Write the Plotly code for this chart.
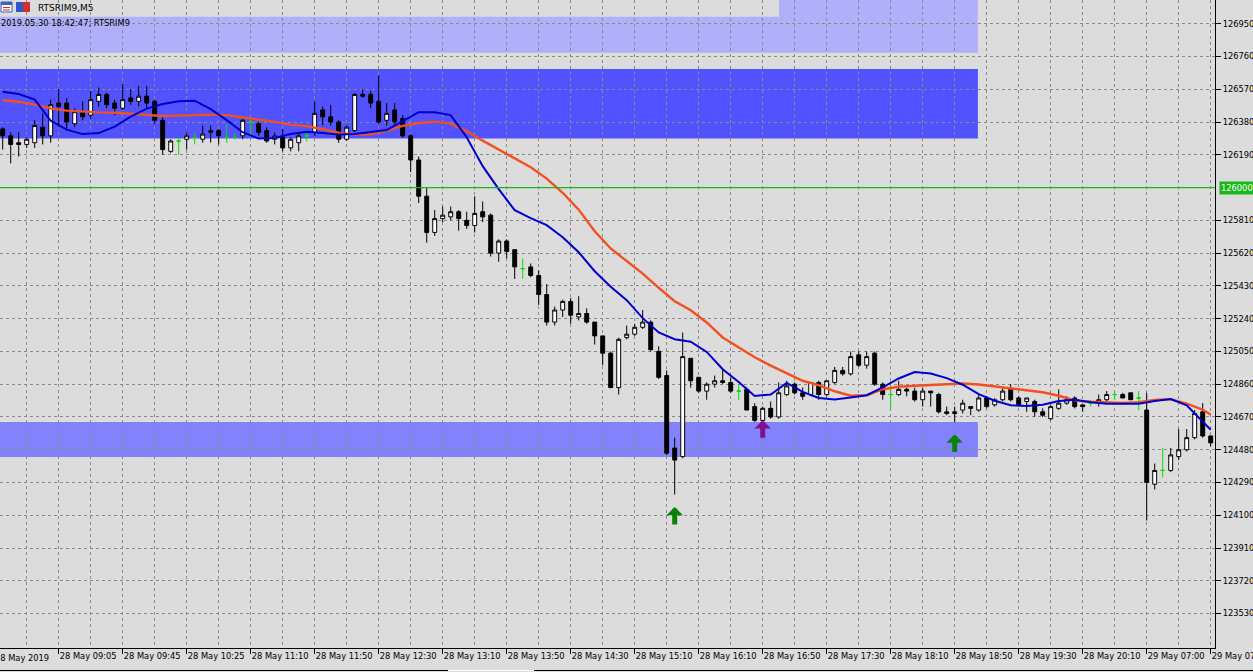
import plotly.graph_objects as go

# ---------------- data ----------------
BARS = list(range(152))
OPEN = [126340,126300,126260,126250,126260,126350,126300,126490,126490,126370,
        126440,126420,126500,126540,126490,126460,126520,126500,126530,126500,
        126390,126210,126270,126280,126290,126280,126320,126330,126290,126290,
        126300,126380,126370,126330,126280,126290,126230,126260,126300,126320,
        126450,126410,126380,126280,126330,126540,126540,126500,126390,126450,
        126400,126300,126160,125950,125740,125820,125830,125860,125810,125780,
        125860,125840,125620,125690,125640,125530,125540,125490,125380,125220,
        125290,125340,125250,125270,125220,125140,125040,124840,125130,125150,
        125190,125220,125050,124910,124490,124440,125010,124900,124820,124860,
        124880,124870,124820,124830,124730,124650,124720,124670,124800,124860,
        124810,124800,124870,124800,124870,124940,124920,125030,124970,125040,
        124860,124800,124800,124830,124820,124770,124820,124800,124690,124690,
        124710,124730,124710,124780,124740,124770,124830,124780,124760,124760,
        124700,124660,124720,124750,124780,124740,124750,124750,124770,124800,
        124800,124810,124780,124710,124280,124360,124360,124440,124480,124550,
        124700,124560]
HIGH = [126350,126320,126320,126290,126390,126430,126510,126570,126520,126460,
        126500,126560,126580,126550,126510,126600,126570,126590,126590,126510,
        126410,126280,126290,126320,126320,126360,126360,126340,126370,126320,
        126400,126390,126380,126350,126320,126340,126290,126310,126320,126500,
        126470,126480,126390,126360,126550,126570,126560,126650,126490,126490,
        126420,126310,126180,126000,125870,125890,125890,125870,125860,125950,
        125920,125850,125700,125700,125640,125590,125560,125520,125440,125310,
        125350,125360,125370,125300,125220,125140,125050,125130,125200,125210,
        125290,125230,125080,124940,124550,125160,125010,124900,124870,124910,
        124950,124900,124860,124840,124750,124730,124760,124870,124880,124870,
        124840,124870,124880,124880,124960,124960,125050,125050,125050,125050,
        124870,124840,124880,124840,124840,124840,124820,124810,124730,124730,
        124770,124730,124800,124790,124780,124840,124860,124790,124780,124770,
        124720,124740,124830,124790,124790,124740,124770,124800,124820,124820,
        124810,124810,124820,124810,124400,124490,124490,124600,124600,124710,
        124750,124560]
LOW = [126220,126140,126180,126230,126230,126250,126260,126350,126330,126350,
       126390,126400,126470,126460,126420,126450,126480,126470,126460,126370,
       126190,126200,126190,126220,126250,126260,126260,126250,126260,126280,
       126280,126300,126300,126260,126250,126210,126210,126210,126270,126300,
       126360,126360,126260,126270,126320,126520,126460,126370,126360,126360,
       126290,126090,125910,125680,125720,125800,125810,125750,125760,125740,
       125800,125600,125570,125590,125470,125470,125480,125320,125200,125200,
       125250,125210,125230,125210,125090,124970,124840,124800,125120,125140,
       125180,125050,124890,124450,124220,124430,124840,124810,124770,124840,
       124860,124810,124770,124710,124640,124640,124660,124660,124790,124800,
       124770,124790,124770,124790,124860,124910,124910,124960,124950,124850,
       124770,124720,124790,124790,124760,124730,124730,124690,124680,124640,
       124690,124680,124700,124720,124730,124760,124760,124730,124700,124670,
       124670,124650,124710,124740,124720,124700,124730,124730,124760,124770,
       124780,124770,124710,124070,124250,124320,124350,124420,124470,124540,
       124550,124500]
CLOSE = [126300,126250,126250,126280,126360,126300,126480,126470,126380,126440,
         126410,126510,126540,126480,126460,126510,126500,126530,126490,126390,
         126220,126270,126270,126300,126290,126310,126330,126300,126290,126290,
         126390,126380,126320,126270,126300,126230,126280,126300,126300,126430,
         126410,126380,126280,126350,126540,126530,126490,126380,126430,126380,
         126300,126160,125950,125740,125820,125840,125860,125820,125780,125850,
         125830,125620,125690,125630,125540,125530,125490,125380,125220,125290,
         125340,125260,125270,125220,125140,125040,124840,125120,125150,125190,
         125220,125060,124900,124460,124420,125020,124880,124820,124860,124880,
         124870,124820,124820,124710,124650,124720,124670,124810,124850,124810,
         124790,124870,124800,124880,124940,124920,125020,124970,125020,124860,
         124800,124800,124830,124820,124770,124820,124810,124700,124700,124700,
         124750,124720,124780,124730,124770,124820,124770,124740,124780,124700,
         124680,124730,124750,124770,124730,124730,124750,124770,124800,124800,
         124780,124770,124780,124290,124360,124360,124450,124480,124550,124690,
         124560,124520]

MA_BARS = list(range(0, 151, 2)) + [151]
MA_FAST = [126555,126542,126510,126388,126336,126310,126316,126353,126411,126458,
           126484,126501,126504,126455,126391,126321,126284,126287,126310,126323,
           126317,126307,126310,126321,126334,126385,126437,126437,126420,126292,
           126124,125991,125869,125823,125782,125712,125625,125515,125425,125347,
           125243,125160,125121,125106,125047,124947,124873,124792,124800,124867,
           124815,124780,124771,124783,124796,124841,124893,124931,124922,124895,
           124857,124802,124764,124738,124734,124741,124763,124770,124755,124746,
           124745,124747,124762,124774,124738,124645,124596]
MA_SLOW = [126506,126498,126481,126459,126446,126439,126436,126434,126428,126419,
           126415,126417,126420,126423,126420,126408,126396,126381,126365,126356,
           126338,126318,126307,126309,126330,126358,126374,126382,126371,126327,
           126272,126220,126173,126118,126052,125970,125872,125747,125647,125573,
           125501,125419,125341,125289,125218,125131,125073,125016,124968,124922,
           124880,124854,124819,124793,124796,124831,124845,124851,124854,124860,
           124864,124858,124847,124837,124825,124813,124793,124766,124758,124753,
           124751,124755,124768,124773,124747,124712,124684]

TICK_BARS = [7, 15, 23, 31, 39, 47, 55, 63, 71, 79, 87, 95, 103, 111, 119, 127, 135, 143, 151]
TICK_TEXT = ["28 May 09:05", "28 May 09:45", "28 May 10:25", "28 May 11:10", "28 May 11:50",
             "28 May 12:30", "28 May 13:10", "28 May 13:50", "28 May 14:30", "28 May 15:10",
             "28 May 16:10", "28 May 16:50", "28 May 17:30", "28 May 18:10", "28 May 18:50",
             "28 May 19:30", "28 May 20:10", "29 May 07:00", "29 May 07:40"]
FIRST_LABEL_BAR = -1
FIRST_LABEL = "28 May 2019"
GRID_BARS = [3, 11, 19, 27, 35, 43, 51, 59, 67, 75, 83, 91, 99, 107, 115, 123, 131, 139, 147]
PRICE_TICKS = [123530, 123720, 123910, 124100, 124290, 124480, 124670, 124860, 125050,
               125240, 125430, 125620, 125810, 126190, 126380, 126570, 126760, 126950]

LEVEL = 126000
ZONE_END_BAR = 121.9
ZONE_TOP = [127300, 126687, 124641]
ZONE_BOTTOM = [126782, 126285, 124438]
ZONE_COLOR = ["#B0B0FA", "#5252FF", "#8282FC"]
HEADER_BOX = (97.04, 126990)   # bar, price of the grey label box corner

SIGNAL_BAR = [84, 119, 95]
SIGNAL_PRICE = [124148, 124568, 124651]
SIGNAL_COLOR = ["#0A820A", "#0A820A", "#82108C"]

BG = "#DCDCDC"
GRID = "#8A8A8A"
LEVEL_COLOR = "#16B916"
FONT = "DejaVu Sans"

X_RANGE = [-0.3375, 151.5375]

# ---------------- figure ----------------
doji = [i for i in BARS if OPEN[i] == CLOSE[i]]
norm = [i for i in BARS if OPEN[i] != CLOSE[i]]

def pick(arr, idx):
    return [arr[i] for i in idx]

fig = go.Figure()
fig.add_trace(go.Candlestick(
    x=norm, open=pick(OPEN, norm), high=pick(HIGH, norm), low=pick(LOW, norm), close=pick(CLOSE, norm),
    increasing=dict(line=dict(color="black", width=1), fillcolor="white"),
    decreasing=dict(line=dict(color="black", width=1), fillcolor="black"),
    whiskerwidth=0, hoverinfo="skip", showlegend=False))
fig.add_trace(go.Candlestick(
    x=doji, open=pick(OPEN, doji), high=pick(HIGH, doji), low=pick(LOW, doji), close=pick(CLOSE, doji),
    increasing=dict(line=dict(color="#00E000", width=1), fillcolor="#00E000"),
    decreasing=dict(line=dict(color="#00E000", width=1), fillcolor="#00E000"),
    whiskerwidth=0, hoverinfo="skip", showlegend=False))
fig.add_trace(go.Scatter(x=MA_BARS, y=MA_SLOW, mode="lines",
                         line=dict(color="#F2501E", width=2.4), hoverinfo="skip", showlegend=False))
fig.add_trace(go.Scatter(x=MA_BARS, y=MA_FAST, mode="lines",
                         line=dict(color="#0000CD", width=2), hoverinfo="skip", showlegend=False))

shapes = []
for top, bot, col in zip(ZONE_TOP, ZONE_BOTTOM, ZONE_COLOR):
    shapes.append(dict(type="rect", xref="x", yref="y", x0=-5, x1=ZONE_END_BAR, y0=bot, y1=top,
                       fillcolor=col, line=dict(width=0), layer="below"))
shapes.append(dict(type="rect", xref="x", yref="y", x0=-5, x1=HEADER_BOX[0], y0=HEADER_BOX[1], y1=127300,
                   fillcolor=BG, line=dict(width=0), layer="below"))
shapes.append(dict(type="line", xref="paper", yref="y", x0=0, x1=1, y0=LEVEL, y1=LEVEL,
                   line=dict(color=LEVEL_COLOR, width=1.2), layer="above"))

W, H = 1215.0, 648.0
def px(x): return x / W
def py(y): return 1 - y / H

# window bottom border
shapes.append(dict(type="line", xref="paper", yref="paper", x0=0, x1=px(1253), y0=py(670.5), y1=py(670.5),
                   line=dict(color="black", width=1)))
shapes.append(dict(type="line", xref="paper", yref="paper", x0=px(448), x1=px(534), y0=py(670.5), y1=py(670.5),
                   line=dict(color="white", width=1)))
# header icons
shapes += [
    dict(type="rect", xref="paper", yref="paper", x0=px(1), x1=px(12), y0=py(12), y1=py(2),
         fillcolor="white", line=dict(color="#3A5FB8", width=1)),
    dict(type="rect", xref="paper", yref="paper", x0=px(1), x1=px(12), y0=py(5), y1=py(2),
         fillcolor="#3A5FB8", line=dict(width=0)),
    dict(type="line", xref="paper", yref="paper", x0=px(3), x1=px(10), y0=py(7.5), y1=py(7.5),
         line=dict(color="#C83030", width=1)),
    dict(type="line", xref="paper", yref="paper", x0=px(3), x1=px(10), y0=py(10), y1=py(10),
         line=dict(color="#C83030", width=1)),
    dict(type="rect", xref="paper", yref="paper", x0=px(16), x1=px(23), y0=py(12), y1=py(2),
         fillcolor="#3355CC", line=dict(width=0)),
    dict(type="rect", xref="paper", yref="paper", x0=px(23), x1=px(30), y0=py(12), y1=py(2),
         fillcolor="#D03030", line=dict(width=0)),
]

annotations = []
for b, p, c in zip(SIGNAL_BAR, SIGNAL_PRICE, SIGNAL_COLOR):
    annotations.append(dict(x=b, y=p, xref="x", yref="y", text="", showarrow=True, arrowhead=1,
                            arrowsize=0.55, arrowwidth=5, arrowcolor=c, ax=0, ay=19, standoff=0))
# first (partly hidden) time label, placed through the x scale converted to paper units
first_frac = (FIRST_LABEL_BAR - X_RANGE[0]) / (X_RANGE[1] - X_RANGE[0])
annotations.append(dict(x=first_frac, y=0, xref="paper", yref="paper", text=FIRST_LABEL, showarrow=False,
                        xanchor="left", yanchor="top", yshift=-3, xshift=-2,
                        font=dict(family=FONT, size=8.3, color="black")))
annotations.append(dict(x=px(1218.5), y=LEVEL, xref="paper", yref="y", text=str(LEVEL), showarrow=False,
                        xanchor="left", yanchor="middle", bgcolor=LEVEL_COLOR, borderpad=1,
                        font=dict(family=FONT, size=8.3, color="white")))
annotations.append(dict(x=px(36), y=py(8), xref="paper", yref="paper", text="RTSRIM9,M5", showarrow=False,
                        xanchor="left", yanchor="middle", font=dict(family=FONT, size=9, color="black")))
annotations.append(dict(x=0, y=py(23.5), xref="paper", yref="paper", text="2019.05.30 18:42:47; RTSRIM9",
                        showarrow=False, xanchor="left", yanchor="middle", xshift=-1,
                        font=dict(family=FONT, size=8.3, color="black")))

fig.update_layout(
    template="none",
    width=1253, height=672,
    margin=dict(l=0, r=38, t=0, b=24),
    paper_bgcolor=BG, plot_bgcolor=BG,
    showlegend=False,
    font=dict(family=FONT, size=8.3, color="black"),
    shapes=shapes, annotations=annotations,
    xaxis=dict(range=X_RANGE, tickmode="array", tickvals=TICK_BARS, ticktext=TICK_TEXT,
               ticks="outside", ticklen=5, tickwidth=1, tickcolor="black", tickangle=0,
               ticklabelposition="outside right", ticklabeloverflow="allow",
               showline=True, linecolor="black", linewidth=1, mirror=False,
               showgrid=True, gridcolor=GRID, gridwidth=1, griddash="3px,3px",
               minor=dict(tickmode="array", tickvals=GRID_BARS, showgrid=True, gridcolor=GRID,
                          gridwidth=1, griddash="3px,3px", ticks=""),
               zeroline=False, automargin=False, rangeslider=dict(visible=False),
               tickfont=dict(family=FONT, size=8.3, color="black")),
    yaxis=dict(range=[123330.5, 127087.5], side="right", tickmode="array", tickvals=PRICE_TICKS,
               ticks="outside", ticklen=5, tickwidth=1, tickcolor="black", tickformat="d",
               showline=True, linecolor="black", linewidth=1,
               showgrid=True, gridcolor=GRID, gridwidth=1, griddash="3px,3px",
               zeroline=False, automargin=False,
               tickfont=dict(family=FONT, size=8.3, color="black")),
)

fig.write_html("out.html", config={"displayModeBar": False},
               post_script="document.body.style.margin='0px';document.body.style.overflow='hidden';")
